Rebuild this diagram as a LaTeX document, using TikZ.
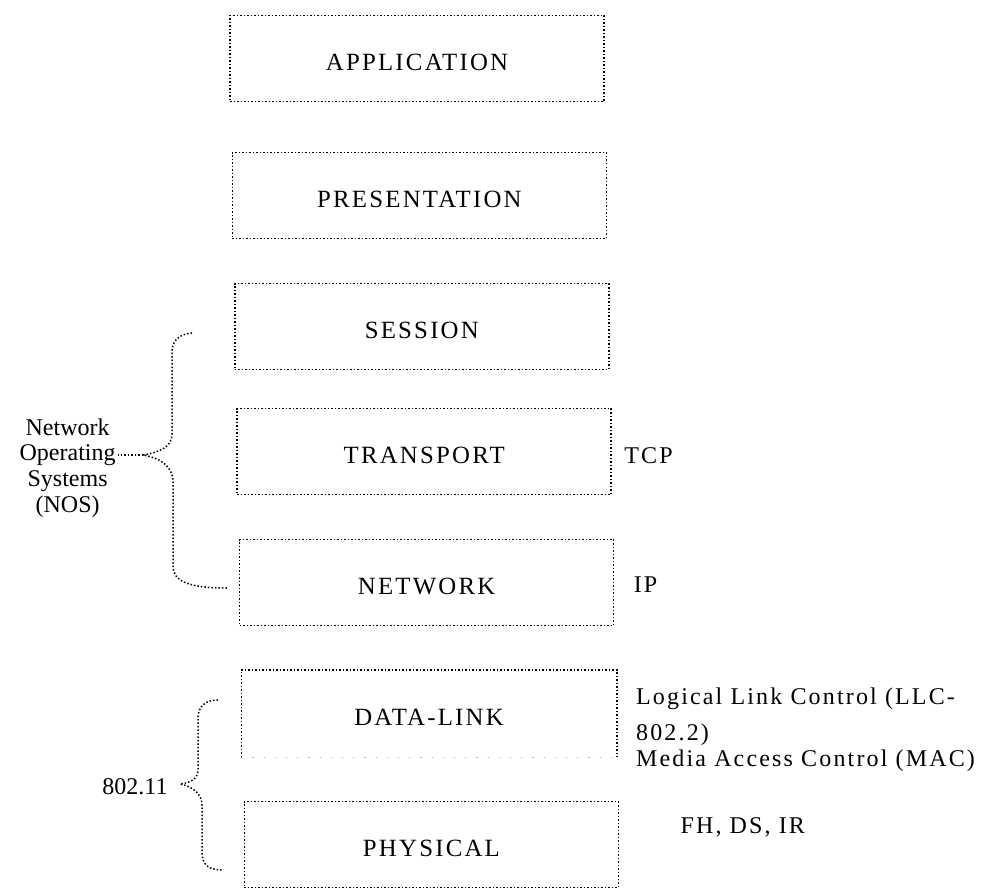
\documentclass[tikz,border=0pt]{standalone}
\usepackage{fontspec}
\setmainfont{Liberation Serif}
\newfontfamily\spacedfont{Liberation Serif}[LetterSpace=9]
\usepackage{tikz}
\usetikzlibrary{positioning}

\begin{document}
\begin{tikzpicture}[x=0.5pt, y=-0.5pt, node distance=65.5pt]
      \tikzstyle{layer} = [draw=black, densely dotted, line width=0.75pt, rectangle,
         minimum width=187pt, minimum height=43pt, inner sep=0pt,
         text height=12pt, text depth=0pt, font=\fontsize{12.4}{14}\spacedfont]
      \tikzstyle{side} = [inner sep=1pt, align=left, font=\fontsize{12}{18}\spacedfont]
      \tikzstyle{dotline} = [draw=black, densely dotted, line width=0.75pt]
      \useasboundingbox (0,0) rectangle (983,888);
      %nodes
      \node[layer]            (application)  at (417,58.5)                                     {APPLICATION};
      \node[layer]            (presentation) [below of=application, xshift=1.2pt, yshift=-3pt] {PRESENTATION};
      \node[layer]            (session)      [below of=presentation, xshift=1.2pt]             {SESSION};
      \node[layer]            (transport)    [below of=session, xshift=1.2pt, yshift=3pt]      {TRANSPORT};
      \node[layer]            (network)      [below of=transport, xshift=1.2pt]                {NETWORK};
      \node[layer, draw=none] (datalink)     [below of=network, xshift=1.2pt]                  {DATA-LINK};
      \node[layer]            (physical)     [below of=datalink, xshift=1.2pt]                 {PHYSICAL};

      \node[side] (tcp) [right=5pt of transport, yshift=-2pt] {TCP};
      \node[side] (ip)  [right=8.5pt of network, yshift=-1pt] {IP};
      \node[side] (llc) [right=8.5pt of datalink, yshift=-1.5pt] {Logical Link Control (LLC-\\802.2)};
      \node[side] (mac) [right=8.5pt of datalink.south east, yshift=-1.5pt] {Media Access Control (MAC)};
      \node[side] (phy) [right=29.5pt of physical, yshift=8.5pt] {FH, DS, IR};

      \coordinate (nostop) at (192,333);
      \coordinate (nostip) at (143,455);
      \coordinate (nosbot) at (228,588);
      \node[align=center, inner sep=1pt, font=\fontsize{12}{12.8}\selectfont]
           (nos) [left=12.5pt of nostip, yshift=-6.5pt] {Network\\Operating\\Systems\\(NOS)};

      \coordinate (wlantop) at (218,700);
      \coordinate (wlantip) at (180,784);
      \coordinate (wlanbot) at (223,870);
      \node[inner sep=1pt, font=\fontsize{12}{14}\selectfont] (wlan) [left=5pt of wlantip, yshift=-1.5pt] {802.11};

      %lines
      \draw[dotline] (datalink.south west) -- (datalink.north west) -- (datalink.north east) -- (datalink.south east);
      \draw[dotline, draw=black!30, dash pattern=on 0.6pt off 5pt] (datalink.south west) -- (datalink.south east);

      \draw[dotline] (nostop) .. controls (180,334) and (172,340) .. (172,352) -- (172,434)
                     .. controls (172,447) and (160,452) .. (nostip)
                     .. controls (160,458) and (173,466) .. (173,482) -- (173,566)
                     .. controls (173,582) and (190,588) .. (nosbot);
      \draw[dotline] (nostip) -- (nostip -| nos.east);

      \draw[dotline] (wlantop) .. controls (206,700) and (198,706) .. (198,718) -- (198,770)
                     .. controls (198,779) and (190,783) .. (wlantip)
                     .. controls (190,786) and (202,792) .. (202,805) -- (202,852)
                     .. controls (202,866) and (210,870) .. (wlanbot);
\end{tikzpicture}
\end{document}
